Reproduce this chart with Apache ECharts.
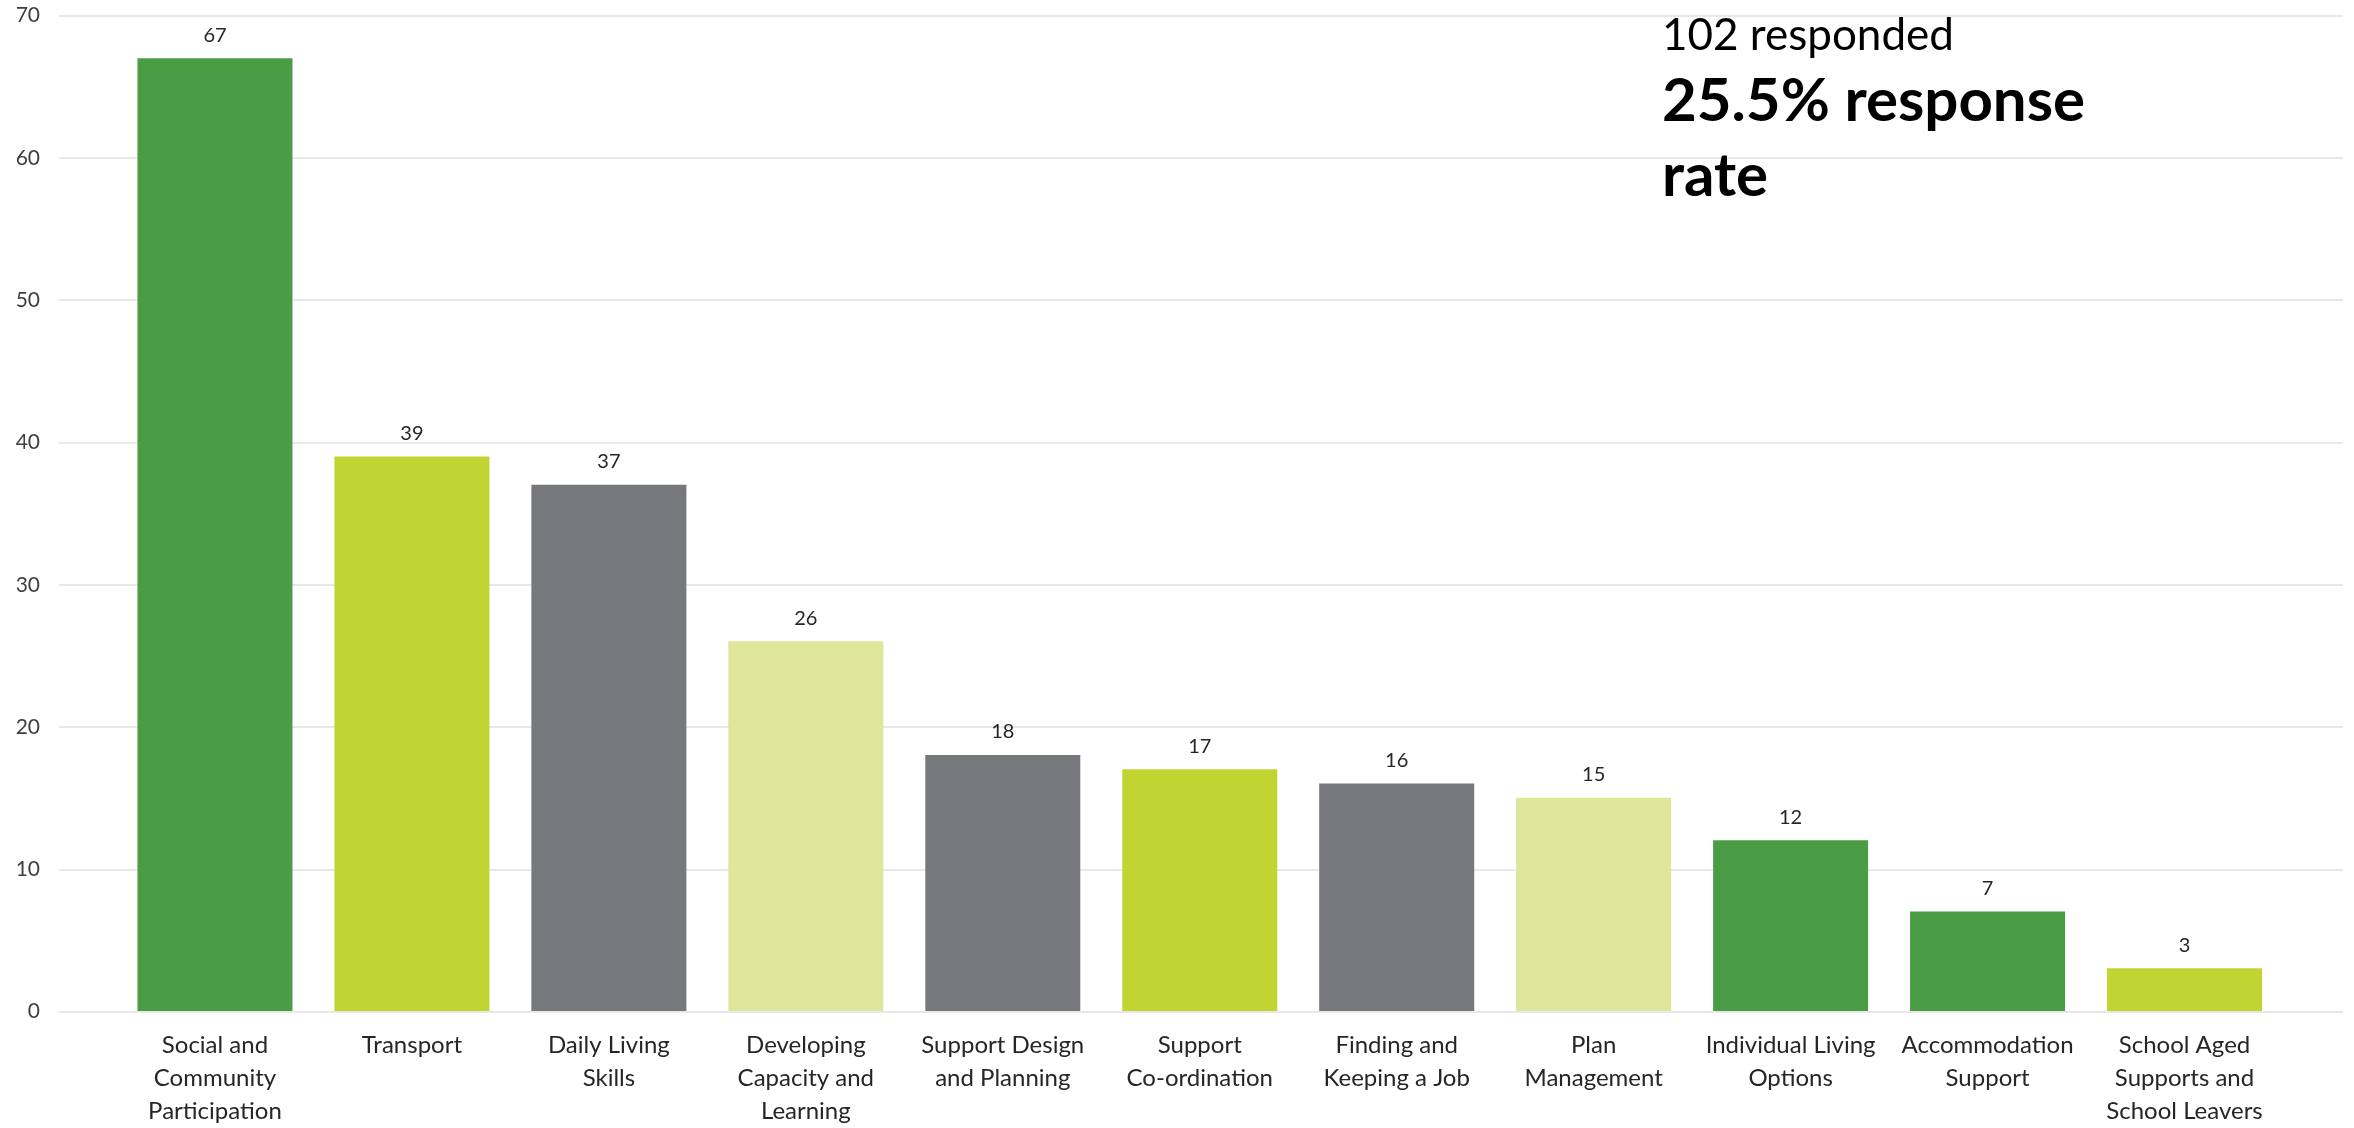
<!DOCTYPE html>
<html>
<head>
<meta charset="utf-8">
<title>Supports used</title>
<script src="https://cdn.jsdelivr.net/npm/echarts@6/dist/echarts.min.js"></script>
<style>
  html, body { margin: 0; padding: 0; background: #ffffff; }
  #chart { width: 2354px; height: 1128px; }
</style>
</head>
<body>
<div id="chart"></div>
<script>
// Support categories (line breaks as shown under each bar)
const categories = [
  'Social and\nCommunity\nParticipation',
  'Transport',
  'Daily Living\nSkills',
  'Developing\nCapacity and\nLearning',
  'Support Design\nand Planning',
  'Support\nCo-ordination',
  'Finding and\nKeeping a Job',
  'Plan\nManagement',
  'Individual Living\nOptions',
  'Accommodation\nSupport',
  'School Aged\nSupports and\nSchool Leavers'
];

// Number of respondents choosing each support
const counts = [67, 39, 37, 26, 18, 17, 16, 15, 12, 7, 3];

// Colour group of each bar
const colorGroups = ['green', 'lime', 'grey', 'pale', 'grey', 'lime', 'grey', 'pale', 'green', 'green', 'lime'];

// Value axis ticks
const yTicks = [0, 10, 20, 30, 40, 50, 60, 70];

// Summary lines in the top-right corner
const respondedText = '102 responded';
const rateLines = ['25.5% response', 'rate'];

const palette = {
  green: '#4a9c45',
  lime: '#c2d432',
  grey: '#77787b',
  pale: '#dde69a'
};

const FONT = 'Lato, "Liberation Sans", sans-serif';
const yMin = yTicks[0];
const yMax = yTicks[yTicks.length - 1];
const yStep = yTicks[1] - yTicks[0];

const chart = echarts.init(document.getElementById('chart'), null, { renderer: 'canvas' });

chart.setOption({
  backgroundColor: '#ffffff',
  animation: false,
  grid: [
    // gridlines and value labels span the full width
    { left: 59, right: 11, top: 15.6, bottom: 116.3 },
    // bars sit in a narrower band
    { left: 116.5, right: 71, top: 15.6, bottom: 116.3 }
  ],
  xAxis: [
    { gridIndex: 0, type: 'value', show: false, min: 0, max: 1 },
    {
      gridIndex: 1,
      type: 'category',
      data: categories,
      axisLine: { show: false },
      axisTick: { show: false },
      axisLabel: {
        interval: 0,
        margin: 18,
        color: '#262626',
        fontFamily: FONT,
        fontSize: 24,
        lineHeight: 33
      }
    }
  ],
  yAxis: [
    {
      gridIndex: 0,
      type: 'value',
      min: yMin,
      max: yMax,
      interval: yStep,
      axisLine: { show: false },
      axisTick: { show: false },
      axisLabel: {
        margin: 19,
        color: '#404040',
        fontFamily: FONT,
        fontSize: 21
      },
      splitLine: { lineStyle: { color: '#e8e8e8', width: 2 } }
    },
    {
      gridIndex: 1,
      type: 'value',
      min: yMin,
      max: yMax,
      interval: yStep,
      show: false,
      splitLine: { show: false }
    }
  ],
  series: [
    {
      type: 'bar',
      xAxisIndex: 1,
      yAxisIndex: 1,
      barWidth: 155,
      data: counts.map((v, i) => ({
        value: v,
        itemStyle: { color: palette[colorGroups[i]] }
      })),
      label: {
        show: true,
        position: 'top',
        distance: 13,
        color: '#262626',
        fontFamily: FONT,
        fontSize: 20
      }
    }
  ],
  graphic: [
    {
      type: 'text',
      left: 1662,
      top: 14,
      z: 100,
      style: {
        text: respondedText,
        fill: '#000000',
        font: 'normal 44px ' + FONT
      }
    },
    {
      type: 'text',
      left: 1662,
      top: 64,
      z: 100,
      style: {
        text: rateLines.join('\n'),
        fill: '#000000',
        font: 'bold 60px ' + FONT,
        lineHeight: 75
      }
    }
  ]
});
</script>
</body>
</html>
